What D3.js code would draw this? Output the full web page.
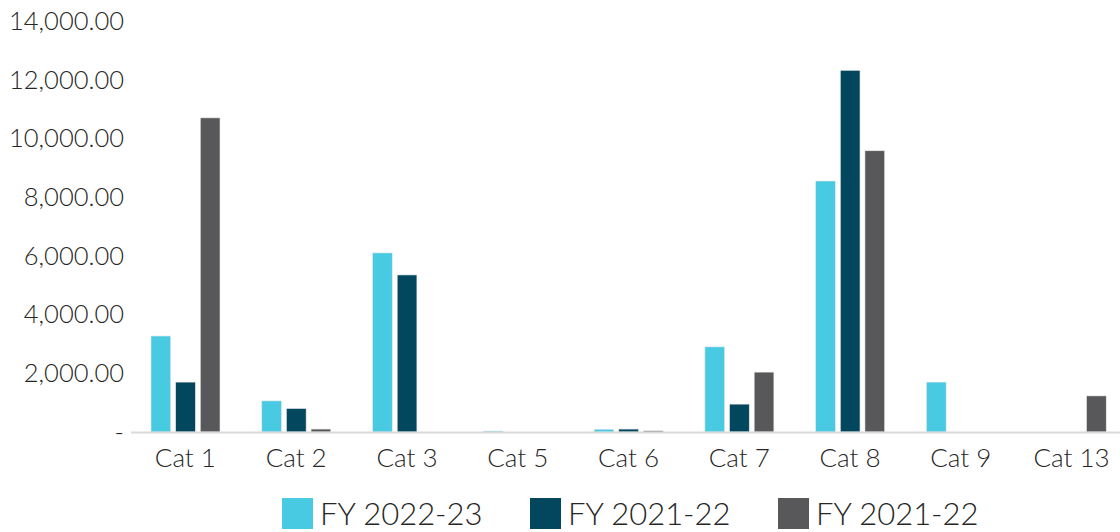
<!DOCTYPE html>
<html>
<head>
<meta charset="utf-8">
<script src="https://cdn.jsdelivr.net/npm/d3@7"></script>
<style>
  body { margin: 0; background: #fff; }
  svg text { font-family: Lato, "Open Sans", sans-serif; font-weight: 300; fill: #262626; }
</style>
</head>
<body>
<div id="chart"></div>
<script>
var categories = ["Cat 1", "Cat 2", "Cat 3", "Cat 5", "Cat 6", "Cat 7", "Cat 8", "Cat 9", "Cat 13"];
var seriesNames = ["FY 2022-23", "FY 2021-22", "FY 2021-22"];
var fy2223 = [3270, 1060, 6100, 35, 95, 2900, 8550, 1700, 0];
var fy2122a = [1700, 800, 5350, 0, 100, 950, 12320, 0, 0];
var fy2122b = [10700, 100, 0, 0, 40, 2040, 9580, 0, 1230];
var yTicks = [0, 2000, 4000, 6000, 8000, 10000, 12000, 14000];
var colours = ["#48cae3", "#03475f", "#58585a"];

var width = 1120, height = 532;
var series = [fy2223, fy2122a, fy2122b];

var svg = d3.select("#chart").append("svg").attr("width", width).attr("height", height);

var x = d3.scaleBand().domain(categories).range([130, 1127]).paddingInner(0).paddingOuter(0);
var xs = d3.scaleBand().domain([0, 1, 2]).range([21, 90]).paddingInner(0.2);
var y = d3.scaleLinear().domain([0, 14000]).range([432, 21]);

var fmt = d3.format(",.2f");

// y tick labels
svg.append("g").selectAll("text").data(yTicks).enter().append("text")
  .attr("x", 124).attr("y", function(d) { return y(d); })
  .attr("dy", "0.35em").attr("text-anchor", "end")
  .style("font-size", "25.5px")
  .text(function(d) { return d === 0 ? "-" : fmt(d); });

// bars
var groups = svg.append("g").selectAll("g").data(categories).enter().append("g")
  .attr("transform", function(d) { return "translate(" + x(d) + ",0)"; });

groups.selectAll("rect").data(function(d, i) {
    return series.map(function(s, k) { return { k: k, v: s[i] }; });
  }).enter().append("rect")
  .filter(function(d) { return d.v > 0; })
  .attr("x", function(d) { return xs(d.k); })
  .attr("width", xs.bandwidth())
  .attr("y", function(d) { return y(d.v); })
  .attr("height", function(d) { return y(0) - y(d.v); })
  .attr("fill", function(d) { return colours[d.k]; })
  .attr("stroke", "#e8e8e8").attr("stroke-width", 0.6);

// baseline
svg.append("line").attr("x1", 131).attr("x2", width)
  .attr("y1", y(0) + 0.5).attr("y2", y(0) + 0.5)
  .attr("stroke", "#d9d9d9").attr("stroke-width", 2);

// category labels
svg.append("g").selectAll("text").data(categories).enter().append("text")
  .attr("x", function(d) { return x(d) + x.bandwidth() / 2; })
  .attr("y", 467).attr("text-anchor", "middle")
  .style("font-size", "26px")
  .text(function(d) { return d; });

// legend
var legend = svg.append("g").selectAll("g").data(seriesNames).enter().append("g")
  .attr("transform", function(d, i) { return "translate(" + (282 + i * 248) + ",498)"; });
legend.append("rect").attr("width", 31).attr("height", 31)
  .attr("fill", function(d, i) { return colours[i]; });
legend.append("text").attr("x", 38).attr("y", 27)
  .style("font-size", "31px")
  .text(function(d) { return d; });
</script>
</body>
</html>
